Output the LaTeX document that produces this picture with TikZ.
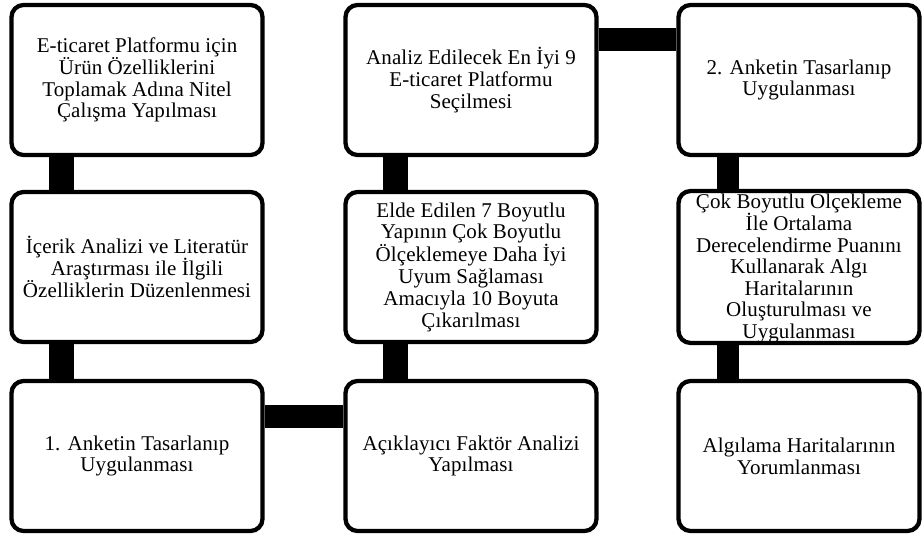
\documentclass[tikz,border=0pt]{standalone}
\usepackage{fontspec}
\setmainfont{Liberation Serif}[LetterSpace=0.5]
\usepackage{tikz}
\tikzset{
  stepbox/.style={shape=rectangle,draw=black,line width=4.3pt,rounded corners=12pt,fill=white,
    minimum width=251pt,minimum height=150pt,inner sep=1pt,align=center,
    font=\fontsize{21}{21.8}\selectfont},
  narrowbox/.style={stepbox,minimum width=241pt},
  link/.style={draw=black,line width=25pt},
}

\begin{document}
\begin{tikzpicture}[x=1pt,y=1pt]
\useasboundingbox (0,0) rectangle (922,-535);
\node[stepbox] (A) at (137,-80) {E-ticaret Platformu için\\Ürün Özelliklerini\\Toplamak Adına Nitel\\Çalışma Yapılması};
\node[stepbox] (B) at (471,-80) {Analiz Edilecek En İyi 9\\E-ticaret Platformu\\Seçilmesi};
\node[narrowbox] (C) at (799,-80) {2. Anketin Tasarlanıp\\Uygulanması};
\node[stepbox] (D) at (137,-267) {İçerik Analizi ve Literatür\\Araştırması ile İlgili\\Özelliklerin Düzenlenmesi};
\node[stepbox] (E) at (471,-267) {Elde Edilen 7 Boyutlu\\Yapının Çok Boyutlu\\Ölçeklemeye Daha İyi\\Uyum Sağlaması\\Amacıyla 10 Boyuta\\Çıkarılması};
\node[narrowbox,inner sep=0pt,font=\fontsize{21}{21.5}\selectfont] (F) at (799,-267) {Çok Boyutlu Ölçekleme\\İle Ortalama\\Derecelendirme Puanını\\Kullanarak Algı\\Haritalarının\\Oluşturulması ve\\Uygulanması};
\node[stepbox] (G) at (137,-456) {1. Anketin Tasarlanıp\\Uygulanması};
\node[stepbox] (H) at (471,-456) {Açıklayıcı Faktör Analizi\\Yapılması};
\node[narrowbox] (I) at (799,-456) {Algılama Haritalarının\\Yorumlanması};
\path ([xshift=-75.5pt]A.south) edge[link] ([xshift=-75.5pt]D.north);
\path ([xshift=-75.5pt]D.south) edge[link] ([xshift=-75.5pt]G.north);
\path ([yshift=40pt]G.east) edge[link,line width=23pt] ([yshift=40pt]H.west);
\path ([xshift=-76pt]H.north) edge[link] ([xshift=-76pt]E.south);
\path ([xshift=-76pt]E.north) edge[link] ([xshift=-76pt]B.south);
\path ([yshift=40pt]B.east) edge[link,line width=23pt] ([yshift=40pt]C.west);
\path ([xshift=-71pt]C.south) edge[link,line width=22pt] ([xshift=-71pt]F.north);
\path ([xshift=-71pt]F.south) edge[link,line width=22pt] ([xshift=-71pt]I.north);
\end{tikzpicture}
\end{document}
